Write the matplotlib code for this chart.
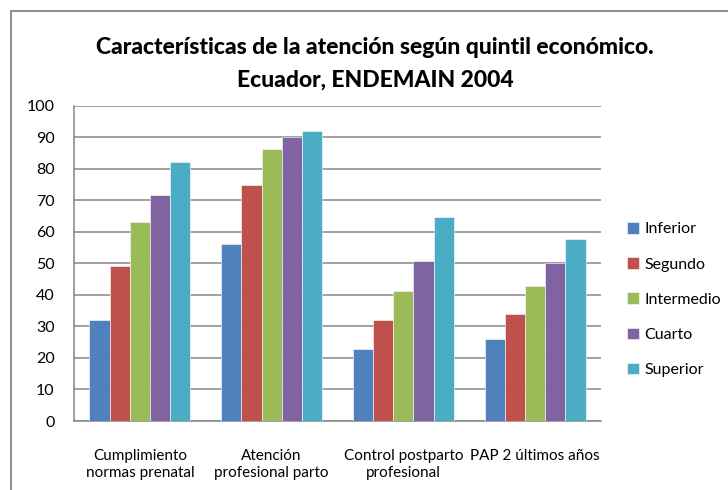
import matplotlib
matplotlib.use("Agg")
import matplotlib.pyplot as plt
import numpy as np
from matplotlib.patches import Rectangle

categories = ["Cumplimiento\nnormas prenatal", "Atención\nprofesional parto",
              "Control postparto\nprofesional", "PAP 2 últimos años"]
series_names = ["Inferior", "Segundo", "Intermedio", "Cuarto", "Superior"]
inferior = [32, 56, 22.8, 26]
segundo = [49.2, 75, 32, 34]
intermedio = [63, 86.3, 41.1, 42.7]
cuarto = [71.7, 90, 50.7, 50.2]
superior = [82, 92, 64.7, 57.7]
yticks = [0, 10, 20, 30, 40, 50, 60, 70, 80, 90, 100]
title = "Características de la atención según quintil económico.\nEcuador, ENDEMAIN 2004"

colors = ["#4F81BD", "#C0504D", "#9BBB59", "#8064A2", "#4BACC6"]
values = [inferior, segundo, intermedio, cuarto, superior]

plt.rcParams['font.family'] = ['Lato', 'DejaVu Sans']

fig = plt.figure(figsize=(7.28, 4.9), dpi=100)
ax = fig.add_axes([74/728, 1-421/490, (601-74)/728, (421-105.7)/490])

# outer chart border
fig.patches.append(Rectangle((11/728, -0.1), 1.2, 1 - 11/490 + 0.1, transform=fig.transFigure,
                             fill=False, edgecolor="#8c8c8c", linewidth=1.4))

x = np.arange(len(categories))
bw = 0.153
for i, (name, vals) in enumerate(zip(series_names, values)):
    ax.bar(x + (i - 2) * bw, vals, width=bw, color=colors[i], label=name,
           edgecolor="white", linewidth=0.4, zorder=3)

ax.set_xlim(-0.5, len(categories) - 0.5)
ax.set_ylim(0, 100)
ax.set_yticks(yticks)
ax.set_yticklabels([str(t) for t in yticks], fontsize=11.5)
ax.yaxis.grid(True, color="#868686", linewidth=1.1, zorder=0)
ax.set_axisbelow(True)
ax.tick_params(axis="y", length=0, pad=14)
ax.tick_params(axis="x", length=0, pad=20)
ax.set_xticks(x)
ax.set_xticklabels(categories, fontsize=11, linespacing=1.25)
for s in ["top", "right"]:
    ax.spines[s].set_visible(False)
for s in ["left", "bottom"]:
    ax.spines[s].set_color("#868686")
    ax.spines[s].set_linewidth(1.1)

fig.text(375/728, 1 - 64/490, title, ha="center", va="center", fontsize=16.5,
         fontweight=900, linespacing=1.65)

leg = ax.legend(loc="upper left", bbox_to_anchor=(627/728, 1 - 222/490),
                bbox_transform=fig.transFigure, frameon=False, fontsize=11.5,
                handlelength=0.75, handleheight=0.75, handletextpad=0.35,
                labelspacing=1.3, borderaxespad=0, borderpad=0)

fig.savefig("out.png", dpi=100)
